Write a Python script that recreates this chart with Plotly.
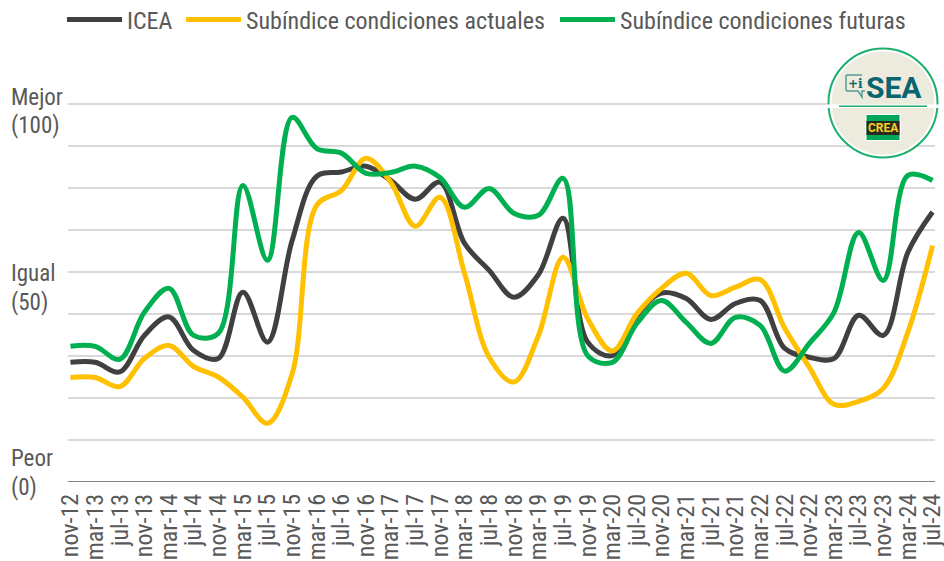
import plotly.graph_objects as go

W, H = 944, 561
FONT = "Roboto Condensed, Liberation Sans Narrow, Roboto, sans-serif"
TXT = "#595959"

months = ["nov-12","mar-13","jul-13","nov-13","mar-14","jul-14","nov-14","mar-15","jul-15","nov-15",
          "mar-16","jul-16","nov-16","mar-17","jul-17","nov-17","mar-18","jul-18","nov-18","mar-19",
          "jul-19","nov-19","mar-20","jul-20","nov-20","mar-21","jul-21","nov-21","mar-22","jul-22",
          "nov-22","mar-23","jul-23","nov-23","mar-24","jul-24"]
icea = [28.5,28.5,26.2,34.9,39.3,31.3,29.4,45.2,33.3,57.5,72.8,73.8,75.2,71.8,67.3,71.4,56.8,50.4,44.0,49.4,
        62.8,33.3,30.1,39.7,45.0,43.7,38.7,42.5,43.2,31.8,29.7,29.4,39.7,34.9,54.7,64.3]
actuales = [24.9,24.9,22.7,29.4,32.5,27.5,25.0,20.2,14.0,25.8,65.9,69.4,77.1,71.4,60.9,67.8,49.7,29.7,23.8,34.9,
            53.5,38.9,31.2,40.1,46.1,49.7,44.4,46.4,48.2,36.6,27.3,18.5,19.2,22.3,35.7,56.3]
futuras = [32.3,32.3,29.2,40.4,46.1,34.9,35.4,70.6,52.8,86.8,79.4,78.3,73.5,73.7,75.2,72.5,65.4,69.9,64.0,63.5,
           72.3,30.1,28.5,37.8,43.2,38.0,33.0,39.2,37.3,26.4,33.0,40.4,59.4,48.0,73.0,71.8]
series_names = ["ICEA", "Subíndice condiciones actuales", "Subíndice condiciones futuras"]
series_colors = ["#404040", "#FFC000", "#00B050"]
legend_widths = [49, 304, 290]
side_labels = ["Mejor", "(100)", "Igual", "(50)", "Peor", "(0)"]
side_label_y = [97, 125, 273, 302, 458, 487]

L, R, T, B = 68, 935, 62, 482

def px(x): return (x - L) / (R - L)
def py(y): return (B - y) / (B - T)

fig = go.Figure()
for name, vals, col, lw in zip(series_names, [icea, actuales, futuras], series_colors, legend_widths):
    fig.add_trace(go.Scatter(x=months, y=vals, name=name, mode="lines", legendwidth=lw,
                             line=dict(color=col, width=5, shape="spline", smoothing=1.0),
                             hoverinfo="skip"))

shapes = []
def oval(cx, cy, r, **kw):
    shapes.append(dict(type="circle", xref="paper", yref="paper",
                       x0=px(cx-r), x1=px(cx+r), y0=py(cy+r), y1=py(cy-r), **kw))
def rect(x0, y0, x1, y1, **kw):
    shapes.append(dict(type="rect", xref="paper", yref="paper",
                       x0=px(x0), x1=px(x1), y0=py(y1), y1=py(y0), **kw))
def poly(pts, **kw):
    d = "M" + " L".join(f"{px(x):.5f},{py(y):.5f}" for x, y in pts)
    shapes.append(dict(type="path", xref="paper", yref="paper", path=d, **kw))

oval(883, 103, 54.5, fillcolor="white", line=dict(color="#1CAF6E", width=2))
oval(883, 103, 51.5, fillcolor="#EDEBDD", line=dict(width=0))
rect(826, 104.5, 940, 108, fillcolor="white", line=dict(width=0))
rect(839, 105.5, 927, 107, fillcolor="#1CAF6E", line=dict(width=0))
rect(865, 114, 901, 141, fillcolor="white", line=dict(width=0))
rect(866.5, 115, 899.5, 140, fillcolor="#00A65A", line=dict(width=0))
rect(866.5, 121, 899.5, 135, fillcolor="#2B2A20", line=dict(width=0))
poly([(862, 75), (847, 75), (846, 76), (846, 90), (847, 91), (858, 91), (862, 97), (862, 91), (865, 91)],
     fillcolor="rgba(0,0,0,0)", line=dict(color="#5A9A96", width=1.5))

anns = [dict(x=0, xref="paper", xshift=9-L, xanchor="left", y=py(y), yref="paper", yanchor="middle",
             text=t, showarrow=False, font=dict(family=FONT, size=23, color=TXT))
        for t, y in zip(side_labels, side_label_y)]
anns += [
    dict(x=px(894), xref="paper", y=py(87), yref="paper", text="<b>SEA</b>", showarrow=False,
         font=dict(family="Roboto, sans-serif", size=30, color="#0B6470"), xanchor="center", yanchor="middle"),
    dict(x=px(855), xref="paper", y=py(84), yref="paper", text="<b>+i</b>", showarrow=False,
         font=dict(family="DejaVu Serif", size=12, color="#0B6470"), xanchor="center", yanchor="middle"),
    dict(x=px(883), xref="paper", y=py(128), yref="paper", text="<b>CREA</b>", showarrow=False,
         font=dict(family="Roboto, sans-serif", size=12, color="#F5D21F"), xanchor="center", yanchor="middle"),
]

fig.update_layout(
    width=W, height=H, autosize=False,
    margin=dict(l=L, r=W-R, t=T, b=H-B, pad=0, autoexpand=False),
    paper_bgcolor="white", plot_bgcolor="white",
    font=dict(family=FONT, size=24, color=TXT),
    showlegend=True,
    legend=dict(orientation="h", xref="container", yref="container", x=62/W, y=1-20/H, xanchor="left", yanchor="middle",
                itemwidth=55, font=dict(family=FONT, size=24, color=TXT),
                bgcolor="rgba(0,0,0,0)", tracegroupgap=0),
    xaxis=dict(type="category", range=[-0.1, 35.1], tickangle=-90, showgrid=False, ticks="",
               tickfont=dict(family=FONT, size=24, color=TXT), showline=False, zeroline=False, automargin=False,
               ticklabelstandoff=6, tickmode="array", tickvals=months, ticktext=months),
    yaxis=dict(range=[0, 100], dtick=10, showticklabels=False, ticks="", showline=False, zeroline=False, automargin=False,
               gridcolor="#D9D9D9", gridwidth=1.5),
    shapes=shapes + [dict(type="line", xref="paper", yref="y", x0=0, x1=1, y0=0, y1=0,
                          line=dict(color="#595959", width=1.5))],
    annotations=anns,
)
fig.write_html("out.html", config=dict(displayModeBar=False),
               post_script="document.body.style.margin='0';document.documentElement.style.overflow='hidden';")
